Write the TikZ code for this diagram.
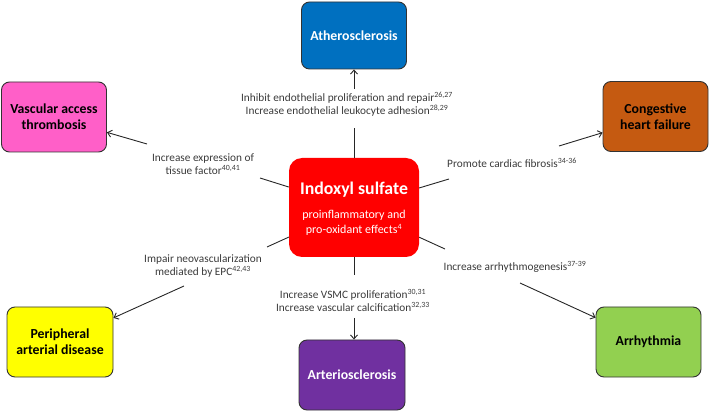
\documentclass[tikz,border=0pt]{standalone}
\usepackage{fontspec}
\setmainfont{Carlito}
\usetikzlibrary{arrows.meta}
\definecolor{athc}{HTML}{0070C0}
\definecolor{chfc}{HTML}{C55A11}
\definecolor{vatc}{HTML}{FF5FC8}
\definecolor{padc}{HTML}{FFFF00}
\definecolor{arhc}{HTML}{92D050}
\definecolor{artc}{HTML}{7030A0}
\definecolor{indc}{HTML}{FF0000}
\definecolor{lblc}{HTML}{3A3A3A}
\tikzset{
  outbox/.style={draw=black!80, line width=0.9pt, rounded corners=8pt, minimum width=105pt, minimum height=70pt, align=center, font=\bfseries\fontsize{13.8}{16}\selectfont, inner sep=2pt},
  lab/.style={text=lblc, align=center, font=\fontsize{11.3}{13}\selectfont, inner sep=1pt},
  conn/.style={draw=black!85, line width=0.9pt},
  arrl/.style={conn, -{Straight Barb[length=4pt,width=7pt]}}
}
\begin{document}
\begin{tikzpicture}[x=1pt,y=-1pt]
\useasboundingbox (0,0) rectangle (709,411);
% boxes
\node[outbox, fill=athc, text=white, minimum height=67pt] (ath) at (354,35.5) {Atherosclerosis};
\node[outbox, fill=vatc] (vat) at (54,117) {Vascular access\\thrombosis};
\node[outbox, fill=chfc] (chf) at (655.5,116.5) {Congestive\\heart failure};
\node[outbox, fill=padc, minimum width=106pt] (pad) at (60,342) {Peripheral\\arterial disease};
\node[outbox, fill=arhc] (arh) at (648.5,342) {Arrhythmia};
\node[outbox, fill=artc, text=white, minimum width=106pt] (art) at (352,375) {Arteriosclerosis};
\node[fill=indc, rounded corners=13pt, minimum width=130pt, minimum height=99pt, inner sep=0pt] (ind) at (354,207.5) {};
\node[text=white, font=\bfseries\fontsize{17.8}{20}\selectfont, inner sep=0pt] (it1) at (354,190) {Indoxyl sulfate};
\node[text=white, align=center, font=\fontsize{12}{15}\selectfont, inner sep=0pt] (it2) at (354,223) {proinflammatory and\\pro-oxidant effects\textsuperscript{4}};
% labels
\node[lab] (lt) at (347,104.5) {Inhibit endothelial proliferation and repair\textsuperscript{26,27}\\Increase endothelial leukocyte adhesion\textsuperscript{28,29}};
\node[lab] (lv) at (203,164.5) {Increase expression of\\tissue factor\textsuperscript{40,41}};
\node[lab] (lc) at (512,163) {Promote cardiac fibrosis\textsuperscript{34-36}};
\node[lab] (lp) at (203,265.5) {Impair neovascularization\\mediated by EPC\textsuperscript{42,43}};
\node[lab] (la) at (515,267) {Increase arrhythmogenesis\textsuperscript{37-39}};
\node[lab] (lb) at (353,300) {Increase VSMC proliferation\textsuperscript{30,31}\\Increase vascular calcification\textsuperscript{32,33}};
% connector ends
\coordinate (cT1) at (354,128);
\coordinate (cT2) at (354,89);
\coordinate (cL1) at (260,178);
\coordinate (cL2) at (147,144);
\coordinate (cR1) at (449,179);
\coordinate (cR2) at (559,146);
\coordinate (cLL1) at (267,247);
\coordinate (cLL2) at (184,286);
\coordinate (cRR1) at (445,249);
\coordinate (cRR2) at (520,283);
\coordinate (cB1) at (354,275);
\coordinate (cB2) at (354,318);
% connectors
\draw[conn] (ind) -- (cT1);
\draw[arrl] (cT2) -- (cT2 |- ath.south);
\draw[conn] (ind) -- (cL1);
\draw[arrl] (cL2) -- (vat);
\draw[conn] (ind) -- (cR1);
\draw[arrl] (cR2) -- (chf);
\draw[conn] (ind) -- (cLL1);
\draw[arrl] (cLL2) -- (pad);
\draw[conn] (ind) -- (cRR1);
\draw[arrl] (cRR2) -- (arh);
\draw[conn] (ind) -- (cB1);
\draw[arrl] (cB2) -- (cB2 |- art.north);
\end{tikzpicture}
\end{document}
